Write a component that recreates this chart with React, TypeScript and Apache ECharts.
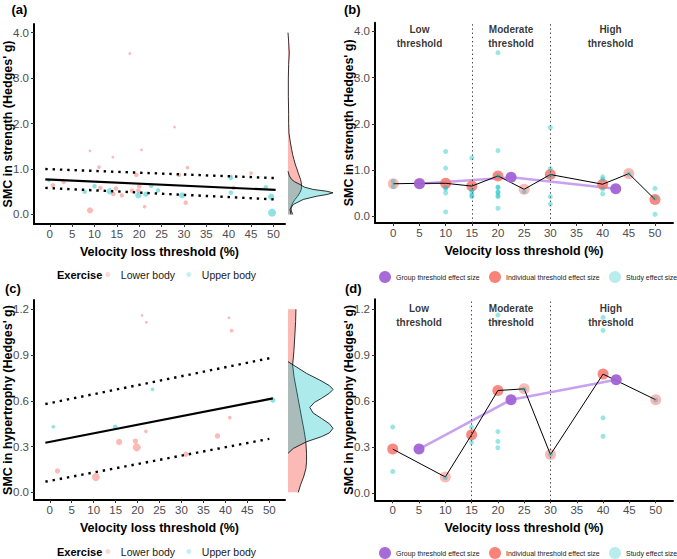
import React, { useEffect, useRef } from "react";
import * as echarts from "echarts";

// ---------- shared ----------
const xTicks = [0, 5, 10, 15, 20, 25, 30, 35, 40, 45, 50];
const strengthTicks = [0, 1, 2, 3, 4];
const hypertrophyTicks = [0, 0.3, 0.6, 0.9, 1.2];
const xTitle = "Velocity loss threshold (%)";
const strengthTitle = "SMC in strength (Hedges' g)";
const hypertrophyTitle = "SMC in hypertrophy (Hedges' g)";
const zoneNames = ["Low\nthreshold", "Moderate\nthreshold", "High\nthreshold"];
const zoneCenters = [5, 22.5, 41.5];
const zoneBounds = [15, 30];

// ---------- (a) strength: [jittered threshold, g, weight] ----------
const strengthLowerBody = [
  [17.9, 3.54, 1], [27.9, 1.92, 1], [9.0, 1.4, 1], [14.1, 1.26, 1], [20.5, 1.42, 1],
  [11.0, 1.04, 1.5], [30.8, 1.03, 1.5], [19.35, 0.87, 2], [28.9, 0.87, 2], [40.6, 0.85, 1],
  [45.0, 0.91, 1.5], [3.1, 0.72, 2], [0.7, 0.64, 2], [11.3, 0.585, 2], [14.8, 0.57, 2],
  [14.2, 0.45, 2], [16.1, 0.42, 2], [18.4, 0.52, 2], [20.0, 0.62, 2], [19.8, 0.52, 2],
  [21.2, 0.17, 1.5], [30.4, 0.26, 2], [9.0, 0.09, 3], [41.1, 0.585, 2],
];
const strengthUpperBody = [
  [-0.2, 0.75, 1.5], [7.8, 0.5, 2], [10.0, 0.62, 2], [13.4, 0.51, 3], [19.8, 0.42, 3],
  [21.5, 0.445, 2.5], [22.7, 0.63, 2], [24.2, 0.53, 2], [29.6, 0.42, 3], [40.5, 0.8, 2],
  [40.5, 0.48, 2], [48.3, 0.6, 2], [49.5, 0.39, 3], [49.7, 0.04, 4],
];
const strengthFitX = [-1, 50.5];
const strengthFit = [0.77, 0.54];
const strengthFitHigh = [1.0, 0.8];
const strengthFitLow = [0.585, 0.33];
// marginal densities [g, density]
const strengthDensityLower = [
  [0.0, 14], [0.08, 10], [0.16, 9], [0.25, 14], [0.33, 21], [0.4, 29], [0.48, 36], [0.55, 40],
  [0.62, 41], [0.7, 40], [0.77, 38], [0.85, 34], [0.91, 31], [1.0, 27], [1.06, 24], [1.13, 21],
  [1.21, 18], [1.32, 14], [1.43, 11], [1.55, 8], [1.64, 6], [1.79, 3], [2.0, 2], [2.2, 2],
  [2.6, 1], [3.0, 1], [3.3, 2], [3.55, 4], [3.8, 2], [4.0, 0],
];
const strengthDensityUpper = [
  [0.0, 9], [0.11, 6], [0.22, 16], [0.33, 46], [0.4, 86], [0.44, 118], [0.476, 136], [0.51, 118],
  [0.55, 76], [0.6, 50], [0.66, 36], [0.72, 20], [0.77, 11], [0.85, 4], [0.95, 0],
];

// ---------- (b) strength by threshold ----------
const strengthThresholds = [0, 5, 10, 15, 20, 25, 30, 40, 45, 50];
const strengthIndividual = [0.7, 0.71, 0.71, 0.65, 0.87, 0.58, 0.9, 0.69, 0.92, 0.36];
const strengthIndividualAlpha = [0.5, 0.5, 0.85, 0.85, 0.85, 0.5, 0.85, 0.85, 0.5, 0.85];
const groupThresholds = [5, 22.5, 42.5];
const strengthGroup = [0.7, 0.84, 0.59];
const strengthStudies = [
  [0, 0.75], [0, 0.64], [5, 0.72],
  [10, 1.4], [10, 1.04], [10, 0.62], [10, 0.585], [10, 0.5], [10, 0.09],
  [15, 1.26], [15, 0.57], [15, 0.51], [15, 0.45], [15, 0.42],
  [20, 3.54], [20, 1.42], [20, 0.87], [20, 0.63], [20, 0.62], [20, 0.52], [20, 0.52], [20, 0.445], [20, 0.42], [20, 0.17],
  [25, 0.53], [30, 1.92], [30, 1.03], [30, 0.87], [30, 0.42], [30, 0.26],
  [40, 0.85], [40, 0.8], [40, 0.585], [40, 0.48], [45, 0.91], [50, 0.6], [50, 0.39], [50, 0.04],
];

// ---------- (c) hypertrophy ----------
const hypertrophyLowerBody = [
  [21.0, 1.16, 1], [22.0, 1.115, 1], [40.8, 1.145, 1], [41.4, 1.06, 1.5], [41.0, 0.49, 1.5],
  [21.9, 0.4, 1.5], [38.2, 0.37, 2.5], [15.8, 0.33, 3], [19.5, 0.336, 2.5], [19.8, 0.295, 4],
  [31.0, 0.25, 2.5], [1.75, 0.14, 2.5], [10.5, 0.1, 4],
];
const hypertrophyUpperBody = [
  [0.8, 0.43, 1.5], [14.9, 0.43, 2], [23.4, 0.675, 1.5], [50.8, 0.605, 2.5],
];
const hypertrophyFitX = [-1, 50.8];
const hypertrophyFit = [0.325, 0.616];
const hypertrophyBandX = [-1, 50];
const hypertrophyFitHigh = [0.579, 0.879];
const hypertrophyFitLow = [0.07, 0.351];
const hypertrophyDensityLower = [
  [0.0, 31], [0.05, 38], [0.1, 47], [0.155, 54], [0.2, 56], [0.256, 56], [0.33, 54], [0.4, 49],
  [0.48, 42], [0.55, 36], [0.62, 30], [0.69, 24], [0.76, 18], [0.835, 14], [0.93, 18],
  [1.04, 21], [1.12, 23], [1.2, 24],
];
const hypertrophyDensityUpper = [
  [0.256, 0], [0.288, 16], [0.332, 56], [0.365, 101], [0.39, 125], [0.42, 136], [0.45, 125],
  [0.485, 101], [0.52, 76], [0.557, 66], [0.59, 80], [0.616, 101], [0.65, 125], [0.675, 136],
  [0.7, 125], [0.736, 96], [0.78, 56], [0.835, 16], [0.857, 0],
];

// ---------- (d) hypertrophy by threshold ----------
const hypertrophyThresholds = [0, 10, 15, 20, 25, 30, 40, 50];
const hypertrophyIndividual = [0.286, 0.104, 0.38, 0.668, 0.679, 0.25, 0.775, 0.608];
const hypertrophyIndividualAlpha = [0.85, 0.5, 0.85, 0.85, 0.5, 0.5, 0.85, 0.5];
const hypertrophyGroup = [0.286, 0.608, 0.738];
const hypertrophyStudies = [
  [0, 0.43], [0, 0.14], [10, 0.1], [15, 0.43], [15, 0.33],
  [20, 1.16], [20, 1.115], [20, 0.4], [20, 0.336], [20, 0.295], [25, 0.675], [30, 0.25],
  [40, 1.145], [40, 1.06], [40, 0.49], [40, 0.37], [50, 0.605],
];

// ---------- styling ----------
const FONT = '"Liberation Sans", Arial, Helvetica, sans-serif';
const RED = "#F8766D";
const TEAL = "#00BFC4";
const PURPLE = "#a263d6";
const LAVENDER = "#c8a2ef";
const dotSize = (w: number) => 1 + 1.75 * w;

const zip = (xs: number[], ys: number[]) => xs.map((x, i) => [x, ys[i]]);

function mainX(gridIndex: number, min: number, max: number) {
  return {
    type: "value", gridIndex, min, max,
    axisLine: { show: true, onZero: false, lineStyle: { color: "#000", width: 2 } },
    axisTick: { show: true, length: 3, customValues: xTicks, lineStyle: { color: "#333", width: 1 } },
    axisLabel: { customValues: xTicks, fontSize: 11.5, color: "#4d4d4d", margin: 4, fontFamily: FONT },
    splitLine: { show: false },
    name: xTitle, nameLocation: "middle", nameGap: 21, nameMoveOverlap: false,
    nameTextStyle: { fontSize: 12.5, fontWeight: "bold", color: "#000", fontFamily: FONT },
  };
}
function mainY(gridIndex: number, min: number, max: number, ticks: number[], title: string) {
  return {
    type: "value", gridIndex, min, max,
    axisLine: { show: true, onZero: false, lineStyle: { color: "#000", width: 2 } },
    axisTick: { show: true, length: 3, customValues: ticks, lineStyle: { color: "#333", width: 1 } },
    axisLabel: { customValues: ticks, fontSize: 11.5, color: "#4d4d4d", margin: 5, fontFamily: FONT,
      formatter: (v: number) => v.toFixed(1) },
    splitLine: { show: false },
    name: title, nameLocation: "middle", nameGap: 20, nameMoveOverlap: false,
    nameTextStyle: { fontSize: 12.5, fontWeight: "bold", color: "#000", fontFamily: FONT },
  };
}
function hiddenAxis(gridIndex: number, min: number, max: number) {
  return { type: "value", gridIndex, min, max, show: false, splitLine: { show: false } };
}

function densitySeries(idx: number, pts: number[][], fill: string, z: number) {
  return {
    type: "custom", xAxisIndex: idx, yAxisIndex: idx, silent: true, z,
    data: [[0, 0]],
    renderItem: (_p: any, api: any) => {
      const outline = pts.map((p) => api.coord([p[1], p[0]]));
      const b0 = api.coord([0, pts[0][0]]);
      const b1 = api.coord([0, pts[pts.length - 1][0]]);
      return {
        type: "group",
        children: [
          { type: "polygon", shape: { points: [b0, ...outline, b1] }, style: { fill, stroke: "none" } },
          { type: "polyline", shape: { points: outline }, style: { fill: "none", stroke: "#000", lineWidth: 0.8 } },
        ],
      };
    },
  };
}

function scatterPanel(idx: number, lower: number[][], upper: number[][]) {
  return [
    {
      name: "Lower body", type: "scatter", xAxisIndex: idx, yAxisIndex: idx, z: 3,
      data: lower.map((d) => [d[0], d[1], d[2]]),
      symbolSize: (v: number[]) => dotSize(v[2]),
      itemStyle: { color: RED, opacity: 0.5 },
    },
    {
      name: "Upper body", type: "scatter", xAxisIndex: idx, yAxisIndex: idx, z: 3,
      data: upper.map((d) => [d[0], d[1], d[2]]),
      symbolSize: (v: number[]) => dotSize(v[2]),
      itemStyle: { color: TEAL, opacity: 0.45 },
    },
  ];
}

function fitLines(idx: number, fx: number[], fit: number[], bx: number[], hi: number[], lo: number[]) {
  const common = { type: "line", xAxisIndex: idx, yAxisIndex: idx, symbol: "none", silent: true, z: 4 };
  return [
    { ...common, name: "fit", data: zip(fx, fit), lineStyle: { color: "#000", width: 2.2 } },
    { ...common, name: "fit-hi", data: zip(bx, hi), lineStyle: { color: "#000", width: 2.4, type: [2.4, 4.9], cap: "butt" } },
    { ...common, name: "fit-lo", data: zip(bx, lo), lineStyle: { color: "#000", width: 2.4, type: [2.4, 4.9], cap: "butt" } },
  ];
}

function thresholdPanel(idx: number, thr: number[], indiv: number[], alpha: number[], group: number[],
  studies: number[][], zoneY: number) {
  return [
    {
      name: "group-line", type: "line", xAxisIndex: idx, yAxisIndex: idx, symbol: "none", silent: true, z: 2,
      data: zip(groupThresholds, group), lineStyle: { color: LAVENDER, width: 2.5 },
    },
    {
      name: "Individual threshold effect size", type: "scatter", xAxisIndex: idx, yAxisIndex: idx, z: 3,
      symbolSize: 11,
      data: thr.map((x, i) => ({ value: [x, indiv[i]], itemStyle: { color: RED, opacity: alpha[i] } })),
      markLine: {
        silent: true, symbol: ["none", "none"], label: { show: false },
        lineStyle: { color: "#444", width: 1, type: [1.4, 2.8] },
        data: zoneBounds.map((b) => ({ xAxis: b })),
      },
    },
    {
      name: "indiv-line", type: "line", xAxisIndex: idx, yAxisIndex: idx, symbol: "none", silent: true, z: 4,
      data: zip(thr, indiv), lineStyle: { color: "#000", width: 1 },
    },
    {
      name: "Study effect size", type: "scatter", xAxisIndex: idx, yAxisIndex: idx, z: 5,
      symbolSize: 5, data: studies, itemStyle: { color: TEAL, opacity: 0.4 },
    },
    {
      name: "Group threshold effect size", type: "scatter", xAxisIndex: idx, yAxisIndex: idx, z: 6,
      symbolSize: 11, data: zip(groupThresholds, group), itemStyle: { color: PURPLE, opacity: 0.95 },
    },
    {
      name: "zones", type: "scatter", xAxisIndex: idx, yAxisIndex: idx, z: 7, silent: true,
      symbolSize: 0,
      data: zoneCenters.map((x, i) => ({ value: [x, zoneY], name: zoneNames[i] })),
      label: {
        show: true, position: "inside", formatter: (p: any) => p.name,
        fontSize: 10, fontWeight: "bold", color: "#000", lineHeight: 14, fontFamily: FONT, align: "center",
      },
    },
  ];
}

function exerciseLegends(top: number) {
  const base = {
    top, padding: 0, itemWidth: 16, itemHeight: 5, icon: "circle", selectedMode: false,
    textStyle: { fontSize: 10.5, color: "#1a1a1a", fontFamily: FONT },
  };
  return [
    { ...base, left: 105.3, data: [{ name: "Lower body", itemStyle: { color: "rgba(248,118,109,0.55)" } }] },
    { ...base, left: 186.3, data: [{ name: "Upper body", itemStyle: { color: "rgba(0,191,196,0.5)" } }] },
  ];
}
function effectLegends(top: number) {
  const base = {
    top, padding: 0, itemWidth: 12, itemHeight: 12, icon: "circle", selectedMode: false,
    textStyle: { fontSize: 7, color: "#1a1a1a", fontFamily: FONT },
  };
  return [
    { ...base, left: 379, data: [{ name: "Group threshold effect size", itemStyle: { color: PURPLE, opacity: 0.95 } }] },
    { ...base, left: 489, data: [{ name: "Individual threshold effect size", itemStyle: { color: RED, opacity: 0.9 } }] },
    { ...base, left: 609, data: [{ name: "Study effect size", itemStyle: { color: "#4fcfd2" } }] },
  ];
}

const panelText = (text: string, left: number, top: number) => ({
  type: "text", left, top, silent: true,
  style: { text, fontSize: 13, fontWeight: "bold", fill: "#000", font: `bold 13px ${FONT}` },
});
const exerciseText = (top: number) => ({
  type: "text", left: 57, top, silent: true,
  style: { text: "Exercise", fill: "#000", font: `bold 11px ${FONT}` },
});

const option: any = {
  animation: false,
  backgroundColor: "#fff",
  textStyle: { fontFamily: FONT },
  grid: [
    { left: 33.5, top: 24, width: 251.5, height: 200 },
    { left: 288, top: 24, width: 48, height: 200 },
    { left: 375, top: 22.7, width: 298, height: 200.3 },
    { left: 33.5, top: 300, width: 251.5, height: 200 },
    { left: 288, top: 300, width: 48, height: 200 },
    { left: 375, top: 299.3, width: 298, height: 201 },
  ],
  xAxis: [
    mainX(0, -3.53, 52.6),
    hiddenAxis(1, 0, 145),
    mainX(2, -3.5, 53.44),
    mainX(3, -3.59, 53.57),
    hiddenAxis(4, 0, 145),
    mainX(5, -3.37, 53.3),
  ],
  yAxis: [
    mainY(0, -0.21, 4.19, strengthTicks, strengthTitle),
    hiddenAxis(1, -0.21, 4.19),
    mainY(2, -0.15, 4.19, strengthTicks, strengthTitle),
    mainY(3, -0.05, 1.261, hypertrophyTicks, hypertrophyTitle),
    hiddenAxis(4, -0.05, 1.261),
    mainY(5, -0.048, 1.263, hypertrophyTicks, hypertrophyTitle),
  ],
  legend: [...exerciseLegends(269), ...exerciseLegends(546), ...effectLegends(271), ...effectLegends(547)],
  graphic: [
    panelText("(a)", 11.5, 3),
    panelText("(b)", 344, 3),
    panelText("(c)", 5, 282),
    panelText("(d)", 345, 282),
    exerciseText(269),
    exerciseText(546),
  ],
  series: [
    ...scatterPanel(0, strengthLowerBody, strengthUpperBody),
    ...fitLines(0, strengthFitX, strengthFit, strengthFitX, strengthFitHigh, strengthFitLow),
    densitySeries(1, strengthDensityLower, "rgba(248,118,109,0.5)", 1),
    densitySeries(1, strengthDensityUpper, "rgba(0,191,196,0.32)", 2),
    ...thresholdPanel(2, strengthThresholds, strengthIndividual, strengthIndividualAlpha, strengthGroup, strengthStudies, 3.9),
    ...scatterPanel(3, hypertrophyLowerBody, hypertrophyUpperBody),
    ...fitLines(3, hypertrophyFitX, hypertrophyFit, hypertrophyBandX, hypertrophyFitHigh, hypertrophyFitLow),
    densitySeries(4, hypertrophyDensityLower, "rgba(248,118,109,0.5)", 1),
    densitySeries(4, hypertrophyDensityUpper, "rgba(0,191,196,0.32)", 2),
    ...thresholdPanel(5, hypertrophyThresholds, hypertrophyIndividual, hypertrophyIndividualAlpha, hypertrophyGroup, hypertrophyStudies, 1.155),
  ],
};

export default function App() {
  const ref = useRef<HTMLDivElement>(null);
  useEffect(() => {
    const chart = echarts.init(ref.current!, null, { renderer: "svg" });
    chart.setOption(option);
    return () => chart.dispose();
  }, []);
  return (
    <div
      ref={ref}
      style={{ position: "absolute", left: 0, top: 0, width: 677, height: 559, background: "#fff" }}
    />
  );
}
